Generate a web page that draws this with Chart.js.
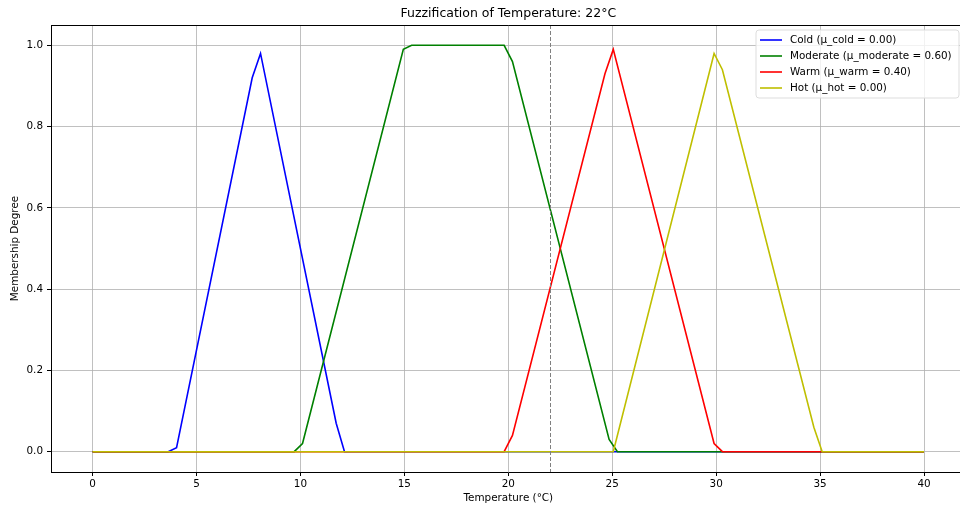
<!DOCTYPE html>
<html><head><meta charset="utf-8">
<script src="https://cdn.jsdelivr.net/npm/chart.js@4/dist/chart.umd.min.js"></script>
<style>
html,body{margin:0;padding:0;background:#fff;overflow:hidden;width:960px;height:507px;}
#wrap{width:960px;height:507px;overflow:hidden;position:relative;}
canvas{display:block;}
</style>
</head><body>
<div id="wrap"><canvas id="c" width="980" height="507" style="width:980px;height:507px"></canvas></div>
<script>
// ---- data ----
const titleText = 'Fuzzification of Temperature: 22°C';
const xLabel = 'Temperature (°C)';
const yLabel = 'Membership Degree';
const currentTemp = 22;
const xTicks = [0, 5, 10, 15, 20, 25, 30, 35, 40];
const yTicks = [0.0, 0.2, 0.4, 0.6, 0.8, 1.0];
const seriesNames = ['Cold (μ_cold = 0.00)', 'Moderate (μ_moderate = 0.60)', 'Warm (μ_warm = 0.40)', 'Hot (μ_hot = 0.00)'];
const seriesColors = ['#0000ff', '#008000', '#ff0000', '#bfbf00'];

const coldX = [0, 3.64, 4.04, 7.68, 8.08, 11.72, 12.12, 40];
const coldY = [0, 0, 0.01, 0.92, 0.98, 0.07, 0, 0];
const moderateX = [0, 9.70, 10.10, 14.95, 15.35, 19.80, 20.20, 24.85, 25.25, 40];
const moderateY = [0, 0, 0.02, 0.99, 1.0, 1.0, 0.96, 0.03, 0, 0];
const warmX = [0, 19.80, 20.20, 24.65, 25.05, 29.90, 30.30, 40];
const warmY = [0, 0, 0.04, 0.93, 0.99, 0.02, 0, 0];
const hotX = [0, 25.05, 29.90, 30.30, 34.70, 35.10, 40];
const hotY = [0, 0, 0.98, 0.94, 0.06, 0, 0];

const seriesX = [coldX, moderateX, warmX, hotX];
const seriesY = [coldY, moderateY, warmY, hotY];

const FONT = 'DejaVu Sans';

const datasets = seriesNames.map((name, i) => ({
  label: name,
  data: seriesX[i].map((x, j) => ({x: x, y: seriesY[i][j]})),
  borderColor: seriesColors[i],
  backgroundColor: seriesColors[i],
  borderWidth: 1.6,
  pointRadius: 0,
  fill: false,
  tension: 0,
  order: seriesNames.length - i
}));

const decorPlugin = {
  id: 'decor',
  afterDatasetsDraw(chart) {
    const {ctx, chartArea: a, scales: {x}} = chart;
    // dashed current temperature line
    const px = Math.round(x.getPixelForValue(currentTemp)) + 0.5;
    ctx.save();
    ctx.strokeStyle = '#808080';
    ctx.lineWidth = 1;
    ctx.setLineDash([4, 2]);
    ctx.beginPath();
    ctx.moveTo(px, a.top);
    ctx.lineTo(px, a.bottom);
    ctx.stroke();
    ctx.setLineDash([]);
    // top spine
    ctx.strokeStyle = '#000';
    ctx.lineWidth = 1;
    ctx.beginPath();
    ctx.moveTo(a.left, Math.round(a.top) + 0.5);
    ctx.lineTo(a.right, Math.round(a.top) + 0.5);
    ctx.stroke();
    // title
    ctx.fillStyle = '#000';
    ctx.font = '12.5px "' + FONT + '"';
    ctx.textAlign = 'center';
    ctx.textBaseline = 'middle';
    ctx.fillText(titleText, (a.left + a.right) / 2, 14);
    // legend
    const lx = 756, ly = 30, lw = 203, lh = 68, r = 3;
    ctx.beginPath();
    ctx.moveTo(lx + r, ly);
    ctx.lineTo(lx + lw - r, ly);
    ctx.arcTo(lx + lw, ly, lx + lw, ly + r, r);
    ctx.lineTo(lx + lw, ly + lh - r);
    ctx.arcTo(lx + lw, ly + lh, lx + lw - r, ly + lh, r);
    ctx.lineTo(lx + r, ly + lh);
    ctx.arcTo(lx, ly + lh, lx, ly + lh - r, r);
    ctx.lineTo(lx, ly + r);
    ctx.arcTo(lx, ly, lx + r, ly, r);
    ctx.closePath();
    ctx.fillStyle = 'rgba(255,255,255,0.8)';
    ctx.fill();
    ctx.strokeStyle = '#dddddd';
    ctx.lineWidth = 1;
    ctx.stroke();
    ctx.font = '10.4px "' + FONT + '"';
    ctx.textAlign = 'left';
    ctx.textBaseline = 'middle';
    seriesNames.forEach((name, i) => {
      const y = 40 + i * 16;
      ctx.strokeStyle = seriesColors[i];
      ctx.lineWidth = 1.6;
      ctx.beginPath();
      ctx.moveTo(760, y);
      ctx.lineTo(782, y);
      ctx.stroke();
      ctx.fillStyle = '#000';
      ctx.fillText(name, 790, y + 0.5);
    });
    ctx.restore();
  }
};

new Chart(document.getElementById('c'), {
  type: 'line',
  data: {datasets: datasets},
  options: {
    responsive: false,
    animation: false,
    devicePixelRatio: 1,
    layout: {padding: {left: 0, top: 25, right: 980 - 965.6, bottom: 0}},
    plugins: {legend: {display: false}, title: {display: false}, tooltip: {enabled: false}},
    scales: {
      x: {
        type: 'linear',
        min: -2, max: 42,
        afterBuildTicks: (s) => { s.ticks = xTicks.map(v => ({value: v})); },
        afterFit: (s) => { s.height = 35; },
        ticks: {color: '#000', font: {family: FONT, size: 10.4}, padding: 2, maxRotation: 0, autoSkip: false},
        grid: {color: '#b0b0b0', lineWidth: 0.8, drawTicks: true, tickLength: 4, tickColor: '#000', tickWidth: 1},
        border: {display: true, color: '#000', width: 1},
        title: {display: true, text: xLabel, color: '#000', font: {family: FONT, size: 10.4}, padding: {top: 0, bottom: 2}}
      },
      y: {
        type: 'linear',
        min: -0.05, max: 1.05,
        afterBuildTicks: (s) => { s.ticks = yTicks.map(v => ({value: v})); },
        afterFit: (s) => { s.width = 51; },
        ticks: {color: '#000', font: {family: FONT, size: 10.4}, padding: 4, callback: (v) => v.toFixed(1)},
        grid: {color: '#b0b0b0', lineWidth: 0.8, drawTicks: true, tickLength: 4, tickColor: '#000', tickWidth: 1},
        border: {display: true, color: '#000', width: 1},
        title: {display: true, text: yLabel, color: '#000', font: {family: FONT, size: 10.4}, padding: {top: 9, bottom: 0}}
      }
    }
  },
  plugins: [decorPlugin]
});
</script>
</body></html>
